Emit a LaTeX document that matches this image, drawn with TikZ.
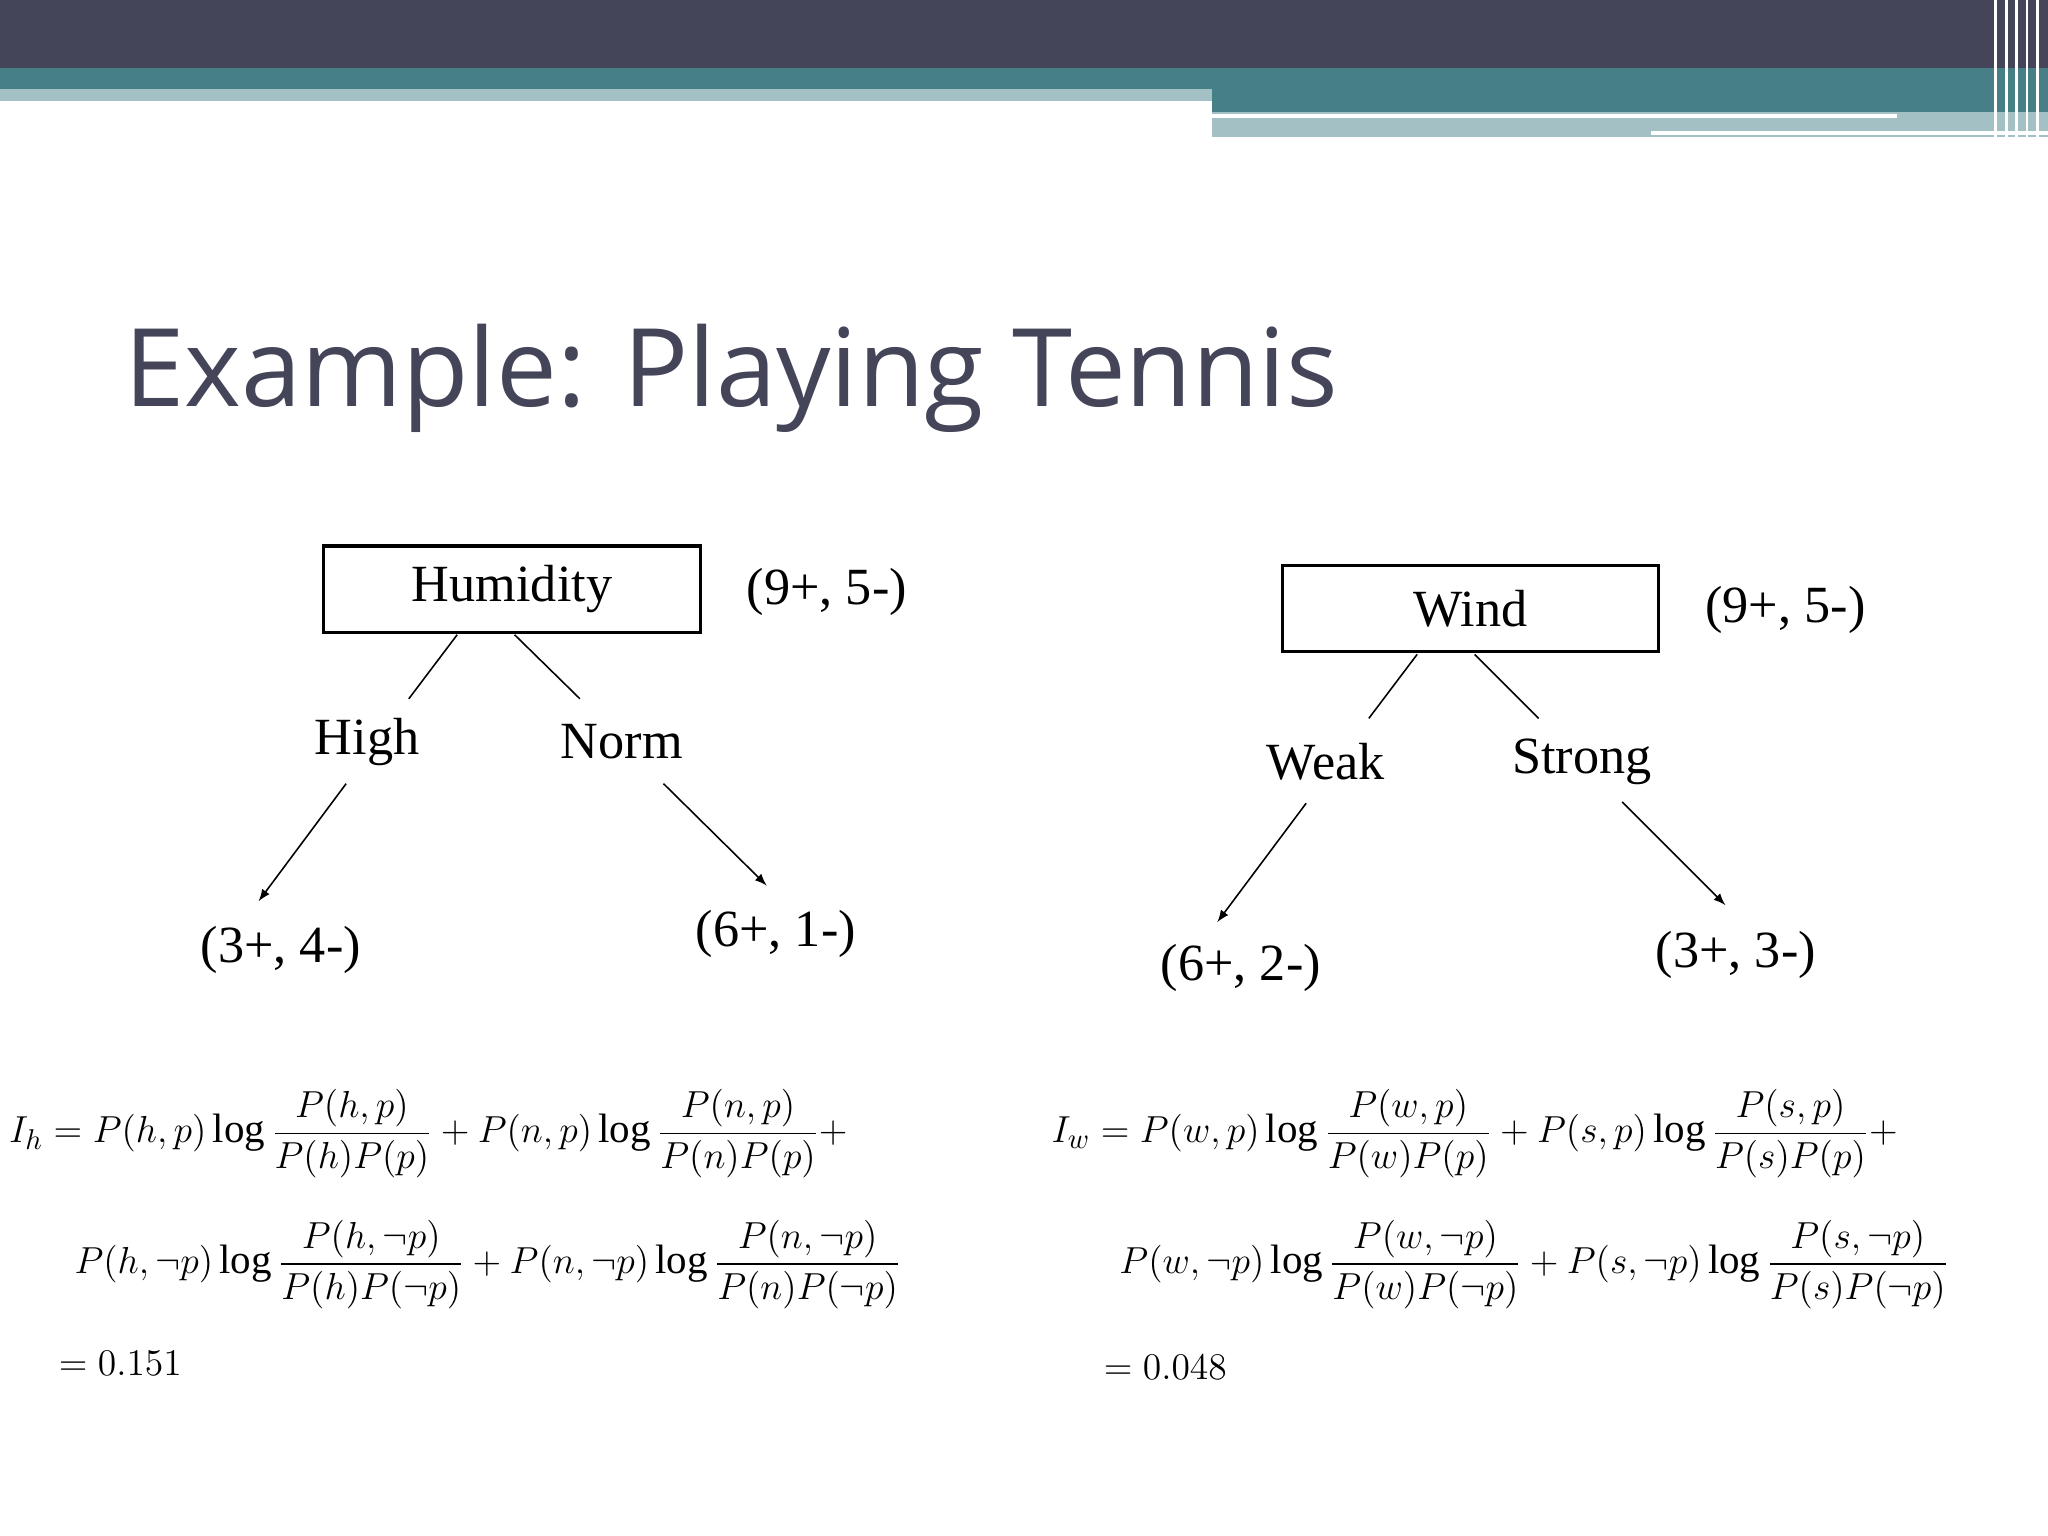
\documentclass[tikz,border=0pt]{standalone}
\usepackage{amsmath}
\usepackage{fontspec}
\setmainfont{Liberation Serif}
\newfontfamily\titlefont{Open Sans}
\begin{document}
\begin{tikzpicture}[x=0.5pt,y=-0.5pt,
 tn/.style={font=\fontsize{20}{22}\selectfont},
 bx/.style={draw,line width=1.2pt,minimum width=144pt,minimum height=33pt,font=\fontsize{20}{22}\selectfont},
 fm/.style={font=\fontsize{15.7}{18}\selectfont,anchor=west},
 ar/.style={-latex,line width=0.6pt},
 ln/.style={line width=0.6pt}]
\useasboundingbox (0,0) rectangle (1568,1176);
\fill[white] (0,0) rectangle (1568,1176);
\fill[fill={rgb,255:red,69;green,69;blue,90}] (0,0) rectangle (1568,52);
\fill[fill={rgb,255:red,71;green,127;blue,134}] (0,52) rectangle (1568,68);
\fill[fill={rgb,255:red,163;green,192;blue,197}] (0,68) rectangle (928,77);
\fill[fill={rgb,255:red,71;green,127;blue,134}] (928,68) rectangle (1568,86);
\fill[fill={rgb,255:red,163;green,192;blue,197}] (928,86) rectangle (1568,105);
\draw[white,line width=1.5pt] (928,89) -- (1452,89);
\draw[white,line width=1.5pt] (1264,102) -- (1568,102);
\foreach \x in {1528,1536,1544,1552,1560} \draw[white,line width=1pt] (\x,0) -- (\x,105);
\node[anchor=west,font=\titlefont\fontsize{41.5}{44}\selectfont,text={rgb,255:red,69;green,69;blue,90}] (title) at (88,290) {Example: Playing Tennis};
% Humidity tree
\node[bx] (hum) at (392,451) {Humidity};
\node[tn] (hc) at (633,453) {(9+, 5-)};
\node[tn] (high) at (281,568) {High};
\node[tn] (norm) at (476,568) {Norm};
\node[tn] (h1) at (215,727) {(3+, 4-)};
\node[tn] (h2) at (594,715) {(6+, 1-)};
\draw[ln] (350,486) -- (313,535);
\draw[ln] (394,486) -- (444,535);
\draw[ar] (265,600) -- (198,690);
\draw[ar] (508,600) -- (587,678);
% Wind tree
\node[bx] (wind) at (1126,466) {Wind};
\node[tn] (wc) at (1367,467) {(9+, 5-)};
\node[tn] (weak) at (1015,583) {Weak};
\node[tn] (strong) at (1211,583) {Strong};
\node[tn] (w1) at (950,741) {(6+, 2-)};
\node[tn] (w2) at (1329,731) {(3+, 3-)};
\draw[ln] (1085,501) -- (1048,550);
\draw[ln] (1129,501) -- (1178,550);
\draw[ar] (1000,615) -- (932,706);
\draw[ar] (1242,614) -- (1321,693);
% formulas
\node[fm] (f1) at (0,868) {$I_h=P(h,p)\log\dfrac{P(h,p)}{P(h)P(p)}+P(n,p)\log\dfrac{P(n,p)}{P(n)P(p)}+$};
\node[fm] (f2) at (50,968) {$P(h,\neg p)\log\dfrac{P(h,\neg p)}{P(h)P(\neg p)}+P(n,\neg p)\log\dfrac{P(n,\neg p)}{P(n)P(\neg p)}$};
\node[fm] (f3) at (38,1044) {$=0.151$};
\node[fm] (g1) at (798,868) {$I_w=P(w,p)\log\dfrac{P(w,p)}{P(w)P(p)}+P(s,p)\log\dfrac{P(s,p)}{P(s)P(p)}+$};
\node[fm] (g2) at (850,968) {$P(w,\neg p)\log\dfrac{P(w,\neg p)}{P(w)P(\neg p)}+P(s,\neg p)\log\dfrac{P(s,\neg p)}{P(s)P(\neg p)}$};
\node[fm] (g3) at (838,1047) {$=0.048$};
\end{tikzpicture}
\end{document}
